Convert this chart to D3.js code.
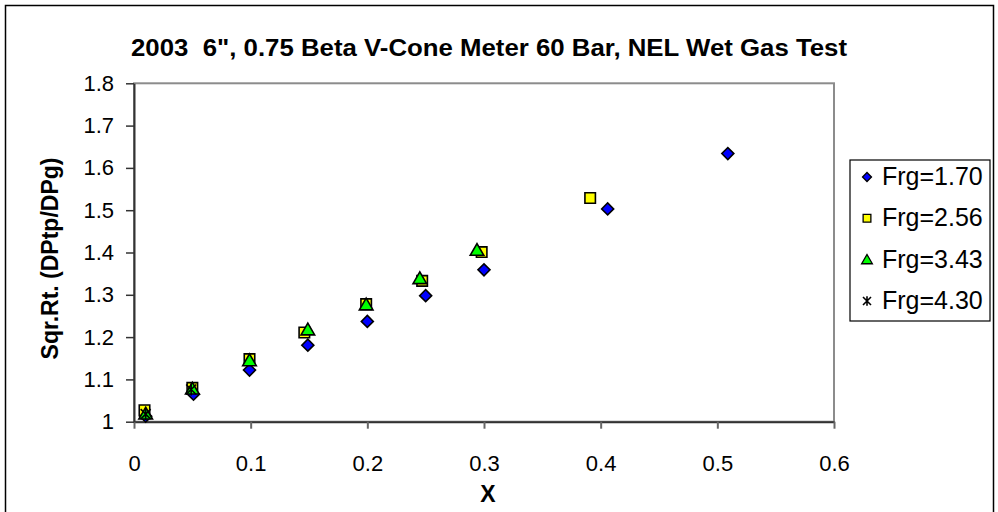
<!DOCTYPE html>
<html><head><meta charset="utf-8">
<script src="https://cdn.jsdelivr.net/npm/d3@7"></script>
<style>body{margin:0;background:#fff}svg{display:block}text{font-family:"Liberation Sans",Arial,sans-serif}</style>
</head><body>
<svg id="c" width="998" height="512"></svg>
<script>
const title = "2003\u00a0\u00a06\", 0.75 Beta V-Cone Meter 60 Bar, NEL Wet Gas Test";
const xTicks = [0, 0.1, 0.2, 0.3, 0.4, 0.5, 0.6];
const yTicks = [1, 1.1, 1.2, 1.3, 1.4, 1.5, 1.6, 1.7, 1.8];
const seriesNames = ["Frg=1.70", "Frg=2.56", "Frg=3.43", "Frg=4.30"];
const x170 = [0.010, 0.051, 0.099, 0.149, 0.200, 0.250, 0.300, 0.406, 0.509];
const y170 = [1.013, 1.065, 1.122, 1.181, 1.237, 1.298, 1.359, 1.503, 1.634];
const x256 = [0.009, 0.050, 0.099, 0.146, 0.199, 0.247, 0.298, 0.391];
const y256 = [1.027, 1.080, 1.148, 1.211, 1.278, 1.333, 1.401, 1.529];
const x343 = [0.010, 0.050, 0.099, 0.149, 0.199, 0.245, 0.294];
const y343 = [1.018, 1.077, 1.144, 1.217, 1.276, 1.338, 1.405];
const x430 = [0.010, 0.049];
const y430 = [1.018, 1.076];

const svg = d3.select("#c");
const L = 134, R = 834, T = 83.3, B = 421.7;
const x = d3.scaleLinear().domain([0, 0.6]).range([L, R]);
const y = d3.scaleLinear().domain([1, 1.8]).range([B, T]);

// outer border
svg.append("rect").attr("x", 5.5).attr("y", 5.5).attr("width", 988).attr("height", 515)
  .attr("fill", "#fff").attr("stroke", "#000").attr("stroke-width", 1.5);

// plot area border
svg.append("rect").attr("x", L).attr("y", T).attr("width", R - L).attr("height", B - T)
  .attr("fill", "#fff").attr("stroke", "#8c8c8c").attr("stroke-width", 2);

// title
svg.append("text").attr("x", 489).attr("y", 56).attr("text-anchor", "middle")
  .attr("font-weight", "bold").attr("font-size", 23)
  .attr("textLength", 716).attr("lengthAdjust", "spacingAndGlyphs").text(title);

// axes
const fmt = d => String(+d.toFixed(1));
const xAxis = d3.axisBottom(x).tickValues(xTicks).tickFormat(fmt).tickSize(7).tickSizeOuter(0);
const gx = svg.append("g").attr("transform", `translate(0,${B})`).call(xAxis);
gx.select(".domain").attr("stroke", "#333").attr("stroke-width", 2);
gx.selectAll(".tick line").attr("stroke", "#666").attr("stroke-width", 2);
gx.selectAll("text").attr("font-size", 22).attr("fill", "#000").attr("dy", 0).attr("y", 49)
  .attr("font-family", "Liberation Sans, Arial, sans-serif");

const yAxis = d3.axisLeft(y).tickValues(yTicks).tickFormat(fmt).tickSize(8).tickSizeOuter(0);
const gy = svg.append("g").attr("transform", `translate(${L},0)`).call(yAxis);
gy.select(".domain").attr("stroke", "#333").attr("stroke-width", 2);
gy.selectAll(".tick line").attr("stroke", "#333").attr("stroke-width", 1.5);
gy.selectAll("text").attr("font-size", 22).attr("fill", "#000").attr("x", -20)
  .attr("font-family", "Liberation Sans, Arial, sans-serif");

// axis titles
svg.append("text").attr("transform", `translate(58,${(T + B) / 2 + 6}) rotate(-90)`)
  .attr("text-anchor", "middle").attr("font-weight", "bold").attr("font-size", 23)
  .text("Sqr.Rt. (DPtp/DPg)");
svg.append("text").attr("x", (L + R) / 2 + 4).attr("y", 502).attr("text-anchor", "middle")
  .attr("font-weight", "bold").attr("font-size", 23).text("X");

// markers
const diamond = d3.symbol().type(d3.symbolSquare).size(72);
const square = d3.symbol().type(d3.symbolSquare).size(110);
const tri = d3.symbol().type(d3.symbolTriangle).size(80);
function star(g, s) {
  const r = s;
  g.append("path").attr("d", `M${-r},${-r}L${r},${r}M${-r},${r}L${r},${-r}M0,${-r*1.2}L0,${r*1.2}`)
    .attr("stroke", "#000").attr("stroke-width", 1.6).attr("fill", "none");
}
const plot = svg.append("g");
function drawSeries(xs, ys, kind) {
  xs.forEach((xv, i) => {
    const g = plot.append("g").attr("transform", `translate(${x(xv)},${y(ys[i])})`);
    if (kind === 0) g.append("path").attr("d", diamond()).attr("transform", "rotate(45)")
      .attr("fill", "#0000ff").attr("stroke", "#000").attr("stroke-width", 1.6);
    else if (kind === 1) g.append("path").attr("d", square())
      .attr("fill", "#ffff00").attr("stroke", "#000").attr("stroke-width", 1.6);
    else if (kind === 2) g.append("path").attr("d", tri()).attr("transform", "translate(0,1)")
      .attr("fill", "#00ff00").attr("stroke", "#000").attr("stroke-width", 1.6);
    else star(g, 5);
  });
}
drawSeries(x170, y170, 0);
drawSeries(x256, y256, 1);
drawSeries(x343, y343, 2);
drawSeries(x430, y430, 3);

// legend
const lg = svg.append("g");
lg.append("rect").attr("x", 850).attr("y", 160).attr("width", 140).attr("height", 161)
  .attr("fill", "#fff").attr("stroke", "#000").attr("stroke-width", 1.2);
const legY = d3.scaleLinear().domain([0, 3]).range([177, 301]);
seriesNames.forEach((name, i) => {
  const g = lg.append("g").attr("transform", `translate(867,${legY(i)})`);
  if (i === 0) g.append("path").attr("d", d3.symbol().type(d3.symbolSquare).size(40)()).attr("transform", "rotate(45)")
    .attr("fill", "#0000ff").attr("stroke", "#000").attr("stroke-width", 1.3);
  else if (i === 1) g.append("path").attr("d", d3.symbol().type(d3.symbolSquare).size(60)())
    .attr("fill", "#ffff00").attr("stroke", "#000").attr("stroke-width", 1.3);
  else if (i === 2) g.append("path").attr("d", d3.symbol().type(d3.symbolTriangle).size(50)()).attr("transform", "translate(0,1)")
    .attr("fill", "#00ff00").attr("stroke", "#000").attr("stroke-width", 1.3);
  else star(g, 4);
  lg.append("text").attr("x", 882).attr("y", legY(i) + 8).attr("font-size", 25).text(name);
});
</script>
</body></html>
